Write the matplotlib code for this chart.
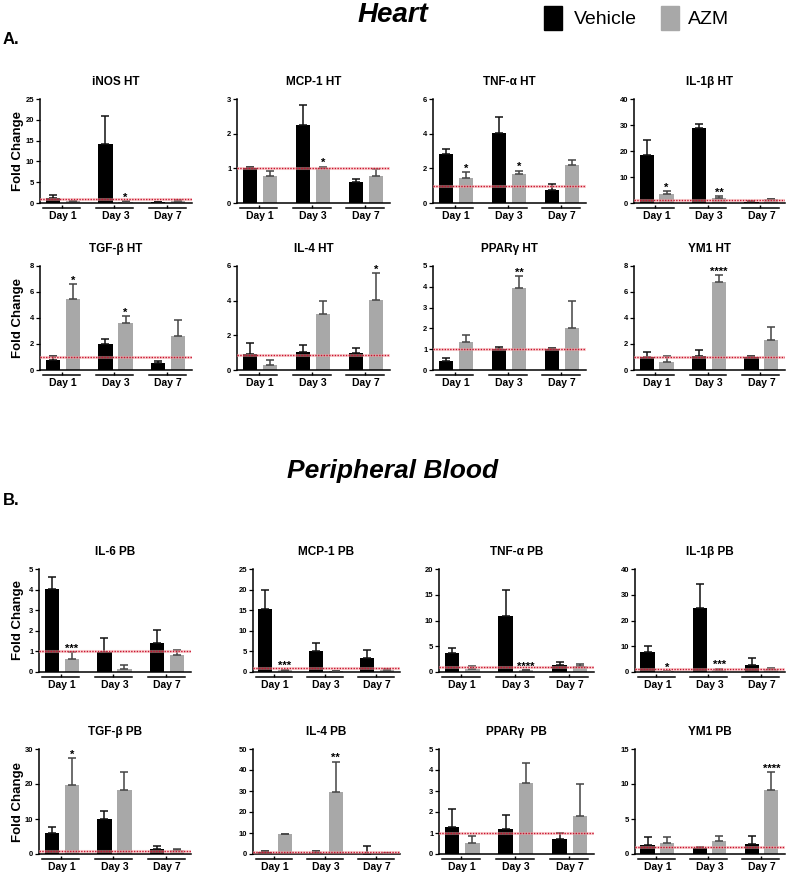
import numpy as np
import matplotlib
matplotlib.use('Agg')
import matplotlib.pyplot as plt
from matplotlib.transforms import offset_copy

plt.rcParams['font.family'] = ['Liberation Sans', 'DejaVu Sans']

days = ['Day 1', 'Day 3', 'Day 7']

# Heart panels
ht_titles = ['iNOS HT', 'MCP-1 HT', 'TNF-α HT', 'IL-1β HT',
             'TGF-β HT', 'IL-4 HT', 'PPARγ HT', 'YM1 HT']
ht_vehicle = [[1.1, 14.2, 0.3], [1.0, 2.25, 0.6], [2.83, 4.06, 0.73], [18.5, 28.8, 0.4],
              [0.77, 1.97, 0.54], [0.9, 1.05, 0.99], [0.43, 1.0, 1.0], [1.02, 1.04, 1.02]]
ht_vehicle_err = [[0.8, 6.6, 0.05], [0.03, 0.58, 0.1], [0.27, 0.89, 0.35], [5.6, 1.7, 0.2],
                  [0.31, 0.44, 0.18], [0.65, 0.4, 0.29], [0.13, 0.11, 0.08], [0.36, 0.51, 0.02]]
ht_azm = [[0.5, 0.3, 0.55], [0.78, 1.0, 0.78], [1.47, 1.66, 2.17], [3.4, 1.9, 1.4],
          [5.44, 3.62, 2.59], [0.31, 3.25, 4.05], [1.37, 3.95, 2.04], [0.64, 6.78, 2.34]]
ht_azm_err = [[0.1, 0.1, 0.25], [0.15, 0.05, 0.19], [0.31, 0.2, 0.33], [1.2, 0.7, 0.2],
              [1.15, 0.51, 1.23], [0.26, 0.71, 1.53], [0.3, 0.55, 1.27], [0.43, 0.51, 1.0]]
ht_stars = [['', '*', ''], ['', '*', ''], ['*', '*', ''], ['*', '**', ''],
            ['*', '*', ''], ['', '', '*'], ['', '**', ''], ['', '****', '']]
ht_ymax = [25, 3, 6, 40, 8, 6, 5, 8]
ht_ystep = [5, 1, 2, 10, 2, 2, 1, 2]
ht_ref = [1, 1, 1, 1, 1, 0.85, 1, 1]

# Peripheral blood panels
pb_titles = ['IL-6 PB', 'MCP-1 PB', 'TNF-α PB', 'IL-1β PB',
             'TGF-β PB', 'IL-4 PB', 'PPARγ  PB', 'YM1 PB']
pb_vehicle = [[4.02, 0.95, 1.4], [15.2, 5.2, 3.45], [3.6, 10.95, 1.34], [7.64, 24.7, 2.67],
              [6.1, 9.95, 1.55], [1.1, 0.6, 0.2], [1.29, 1.17, 0.73], [1.33, 0.9, 1.38]]
pb_vehicle_err = [[0.6, 0.72, 0.62], [4.8, 1.8, 1.85], [1.05, 5.05, 0.51], [2.46, 9.4, 2.68],
                  [1.5, 2.45, 0.75], [0.4, 0.7, 3.7], [0.87, 0.7, 0.27], [1.05, 0.05, 1.19]]
pb_azm = [[0.64, 0.16, 0.83], [0.5, 0.2, 0.5], [0.64, 0.3, 1.15], [0.2, 0.64, 1.0],
          [19.8, 18.4, 1.06], [9.6, 29.3, 0.5], [0.52, 3.4, 1.81], [1.52, 1.86, 9.14]]
pb_azm_err = [[0.31, 0.16, 0.26], [0.1, 0.05, 0.2], [0.44, 0.05, 0.38], [0.05, 0.63, 0.6],
              [7.6, 4.9, 0.29], [0.0, 14.6, 0.1], [0.35, 0.95, 1.54], [0.91, 0.76, 2.51]]
pb_stars = [['***', '', ''], ['***', '', ''], ['', '****', ''], ['*', '***', ''],
            ['*', '', ''], ['', '**', ''], ['', '', ''], ['', '', '****']]
pb_ymax = [5, 25, 20, 40, 30, 50, 5, 15]
pb_ystep = [1, 5, 5, 10, 10, 10, 1, 5]
pb_ref = [1, 1, 1, 1, 1, 1, 1, 1]

W, H = 786, 874
fig = plt.figure(figsize=(W / 100, H / 100), dpi=100)

VEH_COLOR = '#000000'
AZM_COLOR = '#a8a8a8'


def add_axes_px(x0, x1, ytop, ybot):
    return fig.add_axes([x0 / W, 1 - ybot / H, (x1 - x0) / W, (ybot - ytop) / H])


def draw_panel(ax, title, veh, veh_err, azm, azm_err, stars, ymax, ystep, ref):
    x = np.arange(len(days))
    off, bw = 0.19, 0.27
    ax.bar(x - off, veh, bw, color=VEH_COLOR, zorder=2)
    ax.bar(x + off, azm, bw, color=AZM_COLOR, zorder=2)
    ax.errorbar(x - off, veh, yerr=[np.zeros(3), veh_err], fmt='none',
                ecolor='#111111', elinewidth=1.1, capsize=3, capthick=1.1, zorder=3)
    ax.errorbar(x + off, azm, yerr=[np.zeros(3), azm_err], fmt='none',
                ecolor='#444444', elinewidth=1.1, capsize=3, capthick=1.1, zorder=3)
    for i, s in enumerate(stars):
        if s:
            ax.annotate(s, (x[i] + off, azm[i] + azm_err[i]), xytext=(0, -1),
                        textcoords='offset points', ha='center', va='bottom',
                        fontsize=8, fontweight='bold')
    ax.axhline(ref, color='#f4a6a6', lw=2.2, alpha=0.5, zorder=4)
    ax.axhline(ref, color='#c8102e', lw=1.0, ls=(0, (1, 1)), zorder=5)

    ax.set_xlim(-0.43, 2.45)
    ax.set_ylim(0, ymax)
    ax.set_yticks(np.arange(0, ymax + ystep / 2, ystep))
    ax.tick_params(axis='y', labelsize=5.5, length=3, width=0.9, pad=1)
    for lab in ax.get_yticklabels():
        lab.set_fontweight('bold')
    ax.set_xticks(x)
    ax.set_xticklabels(days, fontsize=7.5, fontweight='bold')
    ax.tick_params(axis='x', length=0, pad=6)
    for side in ['top', 'right']:
        ax.spines[side].set_visible(False)
    ax.spines['left'].set_linewidth(1.1)
    ax.spines['bottom'].set_linewidth(1.1)

    # grouped x-axis segments under each day, with a small centre tick
    seg = offset_copy(ax.get_xaxis_transform(), fig=fig, y=-5, units='dots')
    for xi in x:
        ax.plot([xi - 0.37, xi + 0.33], [0, 0], color='black', lw=1.1,
                transform=seg, clip_on=False)
    ax.vlines(x - 0.02, -0.045, -0.015, color='black', lw=1.0,
              transform=ax.get_xaxis_transform(), clip_on=False)

    ax.set_title(title, fontsize=8.5, fontweight='bold', pad=10)


ht_cols = [(40, 192), (237, 390), (433, 586), (634, 785)]
pb_cols = [(39, 191), (253, 400), (439, 594), (635, 785)]
ht_rows = [(99, 203), (266, 370)]
pb_rows = [(569, 672), (749, 854)]

for i in range(8):
    r, c = divmod(i, 4)
    ax = add_axes_px(ht_cols[c][0], ht_cols[c][1], ht_rows[r][0], ht_rows[r][1])
    draw_panel(ax, ht_titles[i], ht_vehicle[i], ht_vehicle_err[i], ht_azm[i],
               ht_azm_err[i], ht_stars[i], ht_ymax[i], ht_ystep[i], ht_ref[i])
    ax = add_axes_px(pb_cols[c][0], pb_cols[c][1], pb_rows[r][0], pb_rows[r][1])
    draw_panel(ax, pb_titles[i], pb_vehicle[i], pb_vehicle_err[i], pb_azm[i],
               pb_azm_err[i], pb_stars[i], pb_ymax[i], pb_ystep[i], pb_ref[i])

# Fold Change labels
for ytop, ybot in ht_rows + pb_rows:
    fig.text(18 / W, 1 - (ytop + ybot) / 2 / H, 'Fold Change', rotation=90,
             ha='center', va='center', fontsize=9.5, fontweight='bold')

# section headers
fig.text(393 / W, 1 - 15 / H, 'Heart', ha='center', va='center', fontsize=20,
         fontweight='bold', style='italic')
fig.text(393 / W, 1 - 471 / H, 'Peripheral Blood', ha='center', va='center',
         fontsize=19, fontweight='bold', style='italic')
fig.text(3 / W, 1 - 40 / H, 'A.', ha='left', va='center', fontsize=12, fontweight='bold')
fig.text(3 / W, 1 - 500 / H, 'B.', ha='left', va='center', fontsize=12, fontweight='bold')

# legend
fig.patches.append(plt.Rectangle((544 / W, 1 - 30 / H), 18 / W, 24 / H,
                                 color=VEH_COLOR, transform=fig.transFigure))
fig.text(574 / W, 1 - 20 / H, 'Vehicle', ha='left', va='center', fontsize=14)
fig.patches.append(plt.Rectangle((661 / W, 1 - 30 / H), 18 / W, 24 / H,
                                 color=AZM_COLOR, transform=fig.transFigure))
fig.text(688 / W, 1 - 20 / H, 'AZM', ha='left', va='center', fontsize=14)

fig.savefig('out.png', dpi=100)
